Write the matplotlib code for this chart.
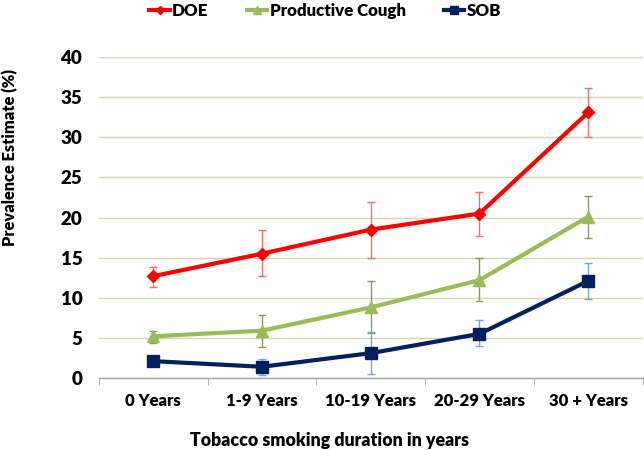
import matplotlib
matplotlib.use("Agg")
import matplotlib.pyplot as plt
import numpy as np

categories = ["0 Years", "1-9 Years", "10-19 Years", "20-29 Years", "30 + Years"]
doe = [12.7, 15.5, 18.5, 20.5, 33.1]
doe_lo = [11.4, 12.7, 15.0, 17.7, 30.1]
doe_hi = [13.8, 18.4, 21.9, 23.2, 36.1]
cough = [5.2, 5.9, 8.8, 12.2, 20.1]
cough_lo = [4.4, 3.9, 5.6, 9.6, 17.5]
cough_hi = [5.9, 7.9, 12.1, 14.9, 22.7]
sob = [2.1, 1.4, 3.1, 5.5, 12.1]
sob_lo = [1.7, 0.4, 0.5, 4.0, 9.9]
sob_hi = [2.4, 2.4, 5.7, 7.2, 14.3]

plt.rcParams['font.family'] = ['Lato', 'DejaVu Sans']
plt.rcParams['font.weight'] = 'heavy'

fig = plt.figure(figsize=(6.44, 4.5), dpi=100)
ax = fig.add_axes([0.1537, 0.16, 0.844, 0.713])
x = np.arange(len(categories))

series = [
    ("DOE", doe, doe_lo, doe_hi, "#ff0000", "#f07070", "D", 6),
    ("Productive Cough", cough, cough_lo, cough_hi, "#9bbb59", "#8a9a5b", "^", 8),
    ("SOB", sob, sob_lo, sob_hi, "#002060", "#6fa8dc", "s", 8),
]
handles = []
for name, v, lo, hi, c, ec, m, ms in series:
    v = np.array(v); lo = np.array(lo); hi = np.array(hi)
    ax.errorbar(x, v, yerr=[v - lo, hi - v], fmt='none', ecolor=ec,
                elinewidth=1, capsize=3, capthick=1, zorder=2)
    h, = ax.plot(x, v, color=c, lw=3, marker=m, ms=ms, zorder=3, label=name)
    handles.append(h)

ax.set_xlim(-0.5, 4.5)
ax.set_ylim(0, 40)
ax.set_yticks(range(0, 41, 5))
ax.grid(axis='y', color='#d6d3b0', lw=1)
ax.set_axisbelow(True)
for s in ['left', 'right', 'top']:
    ax.spines[s].set_visible(False)
ax.spines['bottom'].set_color('#a6a6a6')
ax.spines['bottom'].set_linewidth(1)
ax.set_xticks(x)
ax.set_xticklabels(categories, fontsize=12, fontweight='heavy')
ax.set_xticks(np.arange(-0.5, 5.0, 1.0), minor=True)
ax.tick_params(axis='x', which='major', length=0, pad=11)
ax.tick_params(axis='x', which='minor', length=5, color='#a6a6a6', direction='out')
ax.tick_params(axis='y', length=0, pad=12, labelsize=13.5)
for lab in ax.get_yticklabels():
    lab.set_fontweight('heavy')

fig.text(0.0155, 0.651, "Prevalence Estimate (%)", rotation=90, ha='center', va='center',
         fontsize=11.8, fontweight='heavy')
fig.text(0.512, 0.022, "Tobacco smoking duration in years", ha='center', va='center',
         fontsize=12.8, fontweight='heavy')

leg = fig.legend(handles=handles, loc='center', bbox_to_anchor=(0.505, 0.976),
                 ncol=3, frameon=False, fontsize=12.2, handlelength=1.2,
                 columnspacing=2.25, handletextpad=0.15, markerscale=0.7)
for t in leg.get_texts():
    t.set_fontweight('heavy')

fig.savefig("out.png", dpi=100)
